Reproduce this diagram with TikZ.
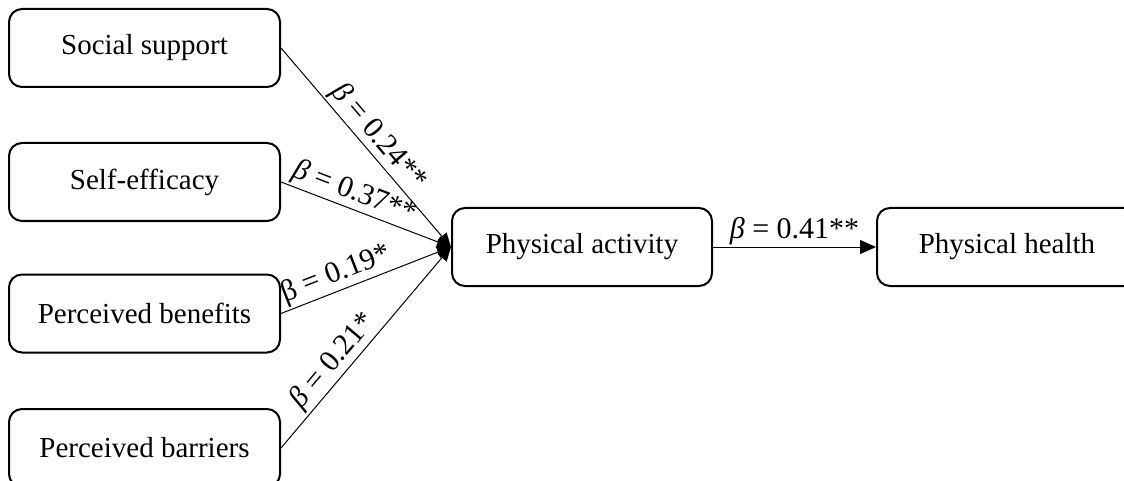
\documentclass[tikz,border=0pt]{standalone}
\usepackage{fontspec}
\setmainfont{Liberation Serif}
\usetikzlibrary{arrows.meta}
\begin{document}
\begin{tikzpicture}[x=1pt,y=-1pt,
  box/.style={draw, line width=2pt, rounded corners=13pt, minimum height=78pt, inner sep=0pt, font=\fontsize{29}{34}\selectfont},
  lbox/.style={box, minimum width=271pt},
  rbox/.style={box, minimum width=260pt},
  conn/.style={line width=1pt, -{Triangle[length=14pt,width=12pt]}},
  lab/.style={font=\fontsize{30}{34}\selectfont, inner sep=2pt}
]
\clip (0,0) rectangle (1124,481);
\fill[white] (0,0) rectangle (1124,481);
\node[lbox] (ss) at (144.5,48) {Social support};
\node[lbox] (se) at (144.5,182) {Self-efficacy};
\node[lbox] (pb) at (144.5,313.5) {Perceived benefits};
\node[lbox] (pr) at (144.5,448) {Perceived barriers};
\node[rbox] (pa) at (582,247) {Physical activity};
\node[rbox] (ph) at (1007,247) {Physical health};
\draw[conn] (ss.east) -- node[lab, pos=0.5, above, sloped] {{\itshape β} = 0.24**} (pa.west);
\draw[conn] (se.east) -- node[lab, pos=0.4, above, sloped] {{\itshape β} = 0.37**} (pa.west);
\draw[conn] (pb.east) -- node[lab, pos=0.36, above, sloped] {β = 0.19*} (pa.west);
\draw[conn] (pr.east) -- node[lab, pos=0.38, above, sloped] {{\itshape β} = 0.21*} (pa.west);
\draw[line width=1pt, -{Triangle[length=16pt,width=14pt]}] (pa.east) -- node[lab, above, pos=0.5] {{\itshape β} = 0.41**} (ph.west);
\end{tikzpicture}
\end{document}
